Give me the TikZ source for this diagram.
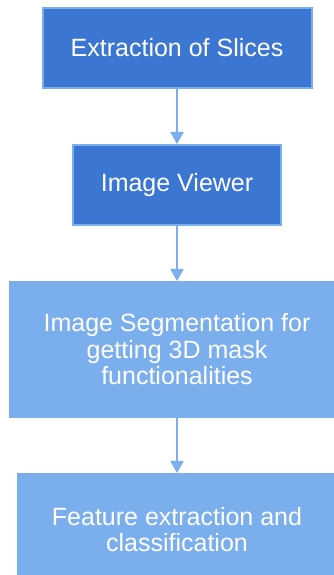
\documentclass[tikz,border=0pt]{standalone}
\usepackage{fontspec}
\setmainfont{Liberation Sans}
\usetikzlibrary{arrows.meta, positioning}
\definecolor{darkblue}{HTML}{3C76D3}
\definecolor{lightblue}{HTML}{7BAEED}

\begin{document}
\begin{tikzpicture}[
    node distance=55pt,
    box/.style={
        rectangle,
        draw=lightblue,
        line width=2pt,
        text=white,
        align=center,
        font=\fontsize{25pt}{26.5pt}\selectfont
    },
    darkbox/.style={box, fill=darkblue},
    lightbox/.style={box, fill=lightblue},
    arrow/.style={-{Triangle[width=13pt,length=12pt]}, draw=lightblue, line width=2pt}
]
\useasboundingbox (0,0) rectangle (333pt,575pt);

\node (A) [darkbox, minimum width=269pt, minimum height=80pt] at (177pt,527pt) {Extraction of Slices};
\node (B) [darkbox, minimum width=208pt, minimum height=80pt, below=of A] {Image Viewer};
\node (C) [lightbox, minimum width=334pt, minimum height=135pt, below=of B] {Image Segmentation for\\getting 3D mask\\functionalities};
\node (D) [lightbox, minimum width=318pt, minimum height=111pt, below=of C] {Feature extraction and\\classification};

\draw [arrow] (A) -- (B);
\draw [arrow] (B) -- (C);
\draw [arrow] (C) -- (D);

\end{tikzpicture}
\end{document}
